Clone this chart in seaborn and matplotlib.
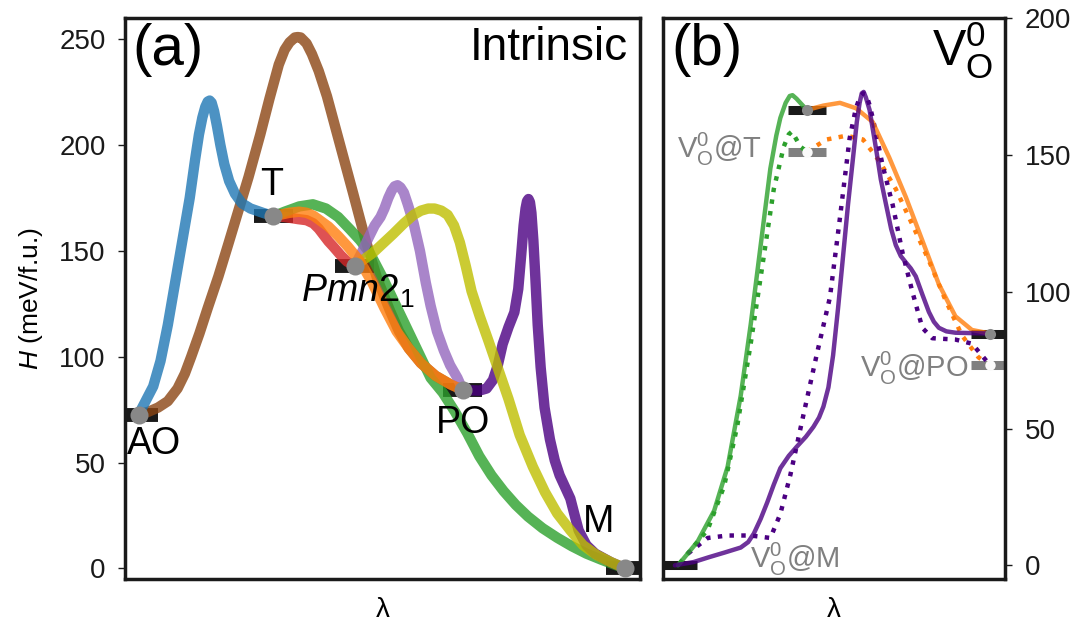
import numpy as np
import matplotlib
matplotlib.use("Agg")
import matplotlib.pyplot as plt
import seaborn as sns

sns.set_theme(style="ticks")
plt.rcParams['font.family'] = ['Liberation Sans', 'DejaVu Sans']
plt.rcParams['mathtext.fontset'] = 'custom'
plt.rcParams['mathtext.rm'] = 'Liberation Sans'
plt.rcParams['mathtext.it'] = 'Liberation Sans:italic'
plt.rcParams['mathtext.bf'] = 'Liberation Sans:bold'
plt.rcParams['text.color'] = 'black'
plt.rcParams['axes.labelcolor'] = 'black'

# ---------------- panel (a): intrinsic paths ----------------
states_a = ['AO', 'T', 'Pmn', 'PO', 'M']
states_a_x = [0.0, 0.277, 0.444, 0.666, 1.0]
states_a_y = [72.7, 166.4, 142.9, 84.3, 0.0]

ao_t_x = [0, 0.012, 0.030, 0.045, 0.060, 0.075, 0.090, 0.105, 0.116, 0.124, 0.131,
          0.137, 0.142, 0.146, 0.150, 0.155, 0.161, 0.168, 0.176, 0.186, 0.198,
          0.212, 0.230, 0.255, 0.277]
ao_t_y = [72.7, 78, 86, 98, 115, 135, 155, 175, 193, 205, 213,
          218, 220.5, 221, 220, 216, 209, 200, 191, 183, 177,
          172.5, 170, 168, 166.4]

ao_po_x = [0, 0.02, 0.04, 0.06, 0.08, 0.095, 0.108, 0.125, 0.142, 0.164, 0.184,
           0.205, 0.226, 0.250, 0.269, 0.288, 0.300, 0.31, 0.321, 0.327, 0.333,
           0.345, 0.356, 0.370, 0.387, 0.414, 0.441, 0.464, 0.490, 0.516, 0.535,
           0.555, 0.580, 0.610, 0.640, 0.666]
ao_po_y = [72.7, 74, 76, 79, 85, 92, 100, 111, 123, 138, 153,
           169, 185, 205, 222, 238, 245, 248.5, 250.8, 251, 250.8,
           248, 243, 235, 223, 200, 177, 157, 137, 122, 112,
           104, 97, 91, 87, 84.3]

t_m_x = [0.277, 0.30, 0.33, 0.358, 0.385, 0.41, 0.435, 0.455, 0.475, 0.50, 0.525,
         0.55, 0.575, 0.60, 0.625, 0.65, 0.675, 0.70, 0.725, 0.75, 0.775, 0.80,
         0.83, 0.86, 0.89, 0.92, 0.95, 0.975, 1.0]
t_m_y = [166.4, 168.5, 171, 172, 170, 166, 160, 155, 149, 138, 126,
         114, 102, 90, 83, 74, 64, 53, 44, 36.5, 30, 24.5,
         19, 14.5, 10.5, 7, 4.2, 2, 0]

t_pmn_x = [0.277, 0.30, 0.328, 0.345, 0.359, 0.37, 0.38, 0.39, 0.40, 0.415, 0.428, 0.444]
t_pmn_y = [166.4, 166, 165, 164.5, 163, 160.5, 157.5, 154.5, 152, 148, 145, 142.9]

t_po_x = [0.277, 0.31, 0.33, 0.345, 0.36, 0.375, 0.39, 0.41, 0.43, 0.455, 0.48,
          0.505, 0.53, 0.555, 0.58, 0.61, 0.64, 0.666]
t_po_y = [166.4, 168, 168.5, 168, 166.5, 164, 161.5, 157, 152, 145, 135,
          123, 112, 104, 97, 91, 87, 84.3]

pmn_po_x = [0.444, 0.46, 0.472, 0.485, 0.497, 0.505, 0.513, 0.52, 0.526, 0.532,
            0.538, 0.545, 0.553, 0.565, 0.578, 0.59, 0.60, 0.613, 0.627, 0.64,
            0.655, 0.666]
pmn_po_y = [142.9, 150, 156, 162, 166, 170, 175, 178.5, 180.5, 181,
            180, 177.5, 172, 163, 150, 135, 124, 112, 103, 96,
            90, 84.3]

pmn_m_x = [0.444, 0.481, 0.523, 0.545, 0.565, 0.58, 0.595, 0.608, 0.622, 0.635,
           0.648, 0.66, 0.672, 0.684, 0.701, 0.718, 0.736, 0.76, 0.783, 0.81,
           0.835, 0.86, 0.887, 0.913, 0.94, 0.97, 1.0]
pmn_m_y = [142.9, 149, 158, 163, 167, 169, 170, 170, 169, 167,
           162, 154, 143, 131, 119, 108, 96, 80, 63, 48,
           36, 26, 18, 11, 6.5, 3, 0]

po_m_x = [0.666, 0.70, 0.715, 0.728, 0.738, 0.748, 0.76, 0.772, 0.780, 0.786,
          0.791, 0.795, 0.798, 0.801, 0.804, 0.807, 0.811, 0.815, 0.820, 0.826,
          0.834, 0.845, 0.855, 0.865, 0.877, 0.887, 0.896, 0.904, 0.92, 0.938,
          0.97, 1.0]
po_m_y = [84.3, 84, 85, 89, 96, 106, 114, 121, 132, 148,
          162, 170, 173.5, 174.5, 173, 168, 155, 138, 115, 95,
          76, 61, 51, 44, 38, 33, 25, 18, 11, 7,
          3, 0]

paths_a = [
    (ao_po_x, ao_po_y, 'saddlebrown'),
    (ao_t_x, ao_t_y, 'tab:blue'),
    (t_pmn_x, t_pmn_y, 'tab:red'),
    (t_m_x, t_m_y, 'tab:green'),
    (pmn_po_x, pmn_po_y, 'tab:purple'),
    (po_m_x, po_m_y, 'indigo'),
    (pmn_m_x, pmn_m_y, (0.75, 0.75, 0.0)),
    (t_po_x, t_po_y, 'tab:orange'),
]

# ---------------- panel (b): V_O^0 paths ----------------
states_b_x = [0.0, 0.413, 1.0]
states_b_y = [0.0, 166.4, 84.7]
states_b_gray_x = [0.413, 1.0]
states_b_gray_y = [151.2, 73.1]

m_t_x = [0, 0.063, 0.116, 0.159, 0.201, 0.233, 0.265, 0.296, 0.315, 0.328, 0.345,
         0.358, 0.367, 0.38, 0.392, 0.413]
m_t_y = [0, 8.7, 20, 36, 62, 88, 117, 145, 157, 163.5, 169,
         171.5, 171.8, 170.5, 169, 166.4]

m_t_v_x = [0.005, 0.095, 0.148, 0.190, 0.233, 0.275, 0.307, 0.339, 0.355, 0.365,
           0.38, 0.392, 0.413]
m_t_v_y = [0.7, 13, 29, 51, 81, 113, 137.5, 153, 157.5, 158.5,
           155.5, 153, 151.2]

t_po_b_x = [0.413, 0.466, 0.519, 0.571, 0.624, 0.677, 0.730, 0.783, 0.836, 0.889,
            0.942, 1.0]
t_po_b_y = [166.4, 168, 169, 167, 162, 149, 134.6, 118.7, 102.7, 91,
            86, 84.7]

t_po_v_x = [0.413, 0.476, 0.540, 0.593, 0.646, 0.698, 0.751, 0.804, 0.857, 0.910,
            0.963, 1.0]
t_po_v_y = [151.2, 155.6, 157, 155.6, 147.6, 137.5, 124.5, 111.4, 97, 84,
            76, 73.1]

m_po_x = [-0.01, 0.05, 0.10, 0.15, 0.201, 0.225, 0.243, 0.265, 0.286, 0.307,
          0.328, 0.355, 0.381, 0.41, 0.434, 0.452, 0.466, 0.482, 0.497, 0.513,
          0.529, 0.545, 0.561, 0.573, 0.582, 0.589, 0.595, 0.602, 0.614, 0.635,
          0.650, 0.667, 0.683, 0.698, 0.714, 0.730, 0.746, 0.762, 0.783, 0.804,
          0.82, 0.836, 0.86, 0.889, 1.0]
m_po_y = [0, 1.2, 3, 4.7, 6.5, 8.5, 11.6, 17, 23, 29.5,
          35.5, 40, 43.4, 47, 50.6, 54, 58, 65, 76.7, 94,
          113, 132, 149, 162, 169, 172.5, 173, 171, 166.4, 152,
          141, 131.7, 123, 117, 113, 110.7, 108.5, 105.6, 99, 92.6,
          89, 86.8, 85.5, 85, 84.7]

m_po_v_x = [0.032, 0.095, 0.159, 0.233, 0.296, 0.328, 0.360, 0.402, 0.444, 0.487,
            0.519, 0.550, 0.570, 0.582, 0.593, 0.603, 0.613, 0.624, 0.656, 0.688,
            0.720, 0.751, 0.783, 0.815, 0.889, 0.942, 0.974, 1.0]
m_po_v_y = [4.3, 10, 10.9, 10.9, 10, 18.8, 33, 55, 76.7, 98,
            127, 156, 167, 170.8, 172.5, 172, 168.5, 163.5, 146, 131.7,
            114, 100, 86.8, 83, 82.5, 81, 76.7, 73.1]

paths_b = [
    (m_t_v_x, m_t_v_y, 'tab:green', ':', 1.0),
    (t_po_v_x, t_po_v_y, 'tab:orange', ':', 1.0),
    (m_po_v_x, m_po_v_y, 'indigo', ':', 1.0),
    (m_t_x, m_t_y, 'tab:green', '-', 0.8),
    (t_po_b_x, t_po_b_y, 'tab:orange', '-', 0.8),
    (m_po_x, m_po_y, 'indigo', '-', 0.8),
]

fig = plt.figure(figsize=(10.83, 6.21), dpi=100)
ax1 = fig.add_axes([0.1154, 0.0676, 0.4755, 0.9034])
ax2 = fig.add_axes([0.6122, 0.0676, 0.3158, 0.9034])

# panel (a)
sx = np.array(states_a_x)
ax1.hlines(states_a_y, sx - 0.04, sx + 0.04, color='k', lw=10, zorder=1)
for xs, ys, c in paths_a:
    sns.lineplot(x=xs, y=ys, ax=ax1, color=c, lw=7.5, alpha=0.8, sort=False,
                 estimator=None, solid_capstyle='round', solid_joinstyle='round',
                 zorder=2)
ax1.plot(states_a_x, states_a_y, 'o', color='#888888', ms=13, mew=0, zorder=5)

lab = dict(fontsize=27, va='baseline', ha='center')
ax1.text(0.032, 53.9, 'AO', **lab)
ax1.text(0.273, 176.3, 'T', **lab)
ax1.text(0.333, 125.8, r'$\mathit{Pmn2}_1$', fontsize=27, va='baseline', ha='left')
ax1.text(0.667, 64.1, 'PO', **lab)
ax1.text(0.945, 17.3, 'M', **lab)
ax1.text(-0.012, 238, '(a)', fontsize=42, ha='left', va='baseline')
ax1.text(1.005, 240, 'Intrinsic', fontsize=33, ha='right', va='baseline')

ax1.set_xlim(-0.028, 1.030)
ax1.set_ylim(-5, 260)
ax1.set_xticks([])
ax1.set_yticks([0, 50, 100, 150, 200, 250])
ax1.set_ylabel(r'$H$ (meV/f.u.)', fontsize=19, labelpad=10)
ax1.set_xlabel('λ', fontsize=20, labelpad=13)

# panel (b)
bx = np.array(states_b_x)
gx = np.array(states_b_gray_x)
ax2.hlines(states_b_y, bx - 0.062, bx + 0.062, color='k', lw=6.5, zorder=1)
ax2.hlines(states_b_gray_y, gx - 0.062, gx + 0.062, color='#808080', lw=6.5, zorder=1)
for xs, ys, c, ls, a in paths_b:
    sns.lineplot(x=xs, y=ys, ax=ax2, color=c, lw=3.2, alpha=a, sort=False,
                 estimator=None, linestyle=ls, solid_joinstyle='round', zorder=2)
ax2.plot(states_b_x[1:], states_b_y[1:], 'o', color='#888888', ms=8, mew=0, zorder=5)
ax2.plot(states_b_gray_x, states_b_gray_y, 'o', color='#fafafa', ms=7.5, mew=0, zorder=5)

gray = dict(fontsize=21, color='#808080', va='baseline')
ax2.text(0.27, 149, r'$\mathrm{V}_\mathrm{O}^0$@T', ha='right', **gray)
ax2.text(0.93, 69, r'$\mathrm{V}_\mathrm{O}^0$@PO', ha='right', **gray)
ax2.text(0.231, -1, r'$\mathrm{V}_\mathrm{O}^0$@M', ha='left', **gray)
ax2.text(-0.020, 182.7, '(b)', fontsize=42, ha='left', va='baseline')
ax2.text(1.01, 182.7, r'$\mathrm{V}_\mathrm{O}^0$', fontsize=36, ha='right', va='baseline')

ax2.set_xlim(-0.048, 1.048)
ax2.set_ylim(-5, 200)
ax2.set_xticks([])
ax2.yaxis.tick_right()
ax2.set_yticks([0, 50, 100, 150, 200])
ax2.set_xlabel('λ', fontsize=20, labelpad=13)
ax2.set_ylabel('')

for ax in (ax1, ax2):
    for s in ax.spines.values():
        s.set_linewidth(2.5)
        s.set_color('k')
    ax.tick_params(axis='y', direction='out', length=5, width=1, labelsize=20,
                   pad=9, colors='k')

fig.savefig('out.png', dpi=100)
